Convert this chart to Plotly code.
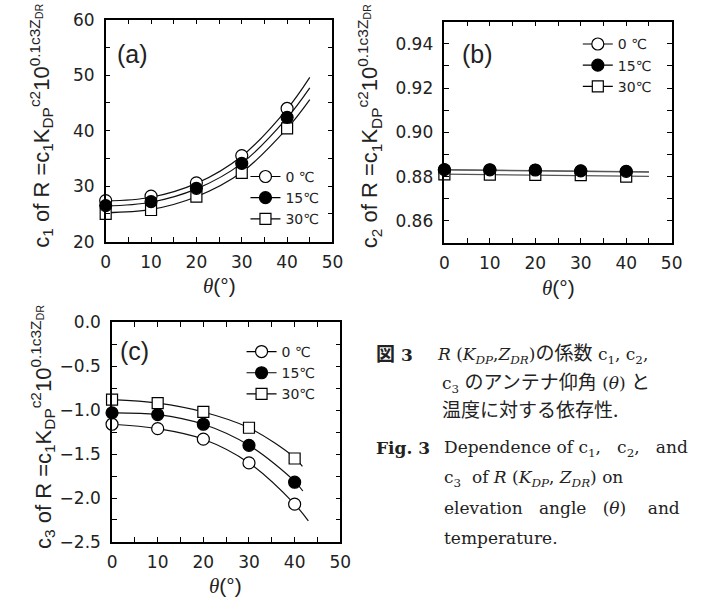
import plotly.graph_objects as go

# ---------------- data ----------------
theta = [0, 10, 20, 30, 40]
temps = ["0 ℃", "15℃", "30℃"]

# (a) c1
c1_pts = {
    "0 ℃": [27.4, 28.2, 30.6, 35.5, 44.0],
    "15℃": [26.5, 27.2, 29.6, 34.1, 42.4],
    "30℃": [25.0, 25.7, 28.1, 32.4, 40.4],
}
c1_fit_x = [0, 10, 20, 30, 40, 45]
c1_fit = {
    "0 ℃": [27.3, 28.0, 30.5, 35.4, 43.9, 49.6],
    "15℃": [26.4, 27.1, 29.5, 34.1, 42.3, 47.7],
    "30℃": [25.2, 25.8, 28.1, 32.5, 40.4, 45.6],
}

# (b) c2
c2_pts = {
    "0 ℃": [0.8830, 0.8829, 0.8828, 0.8825, 0.8822],
    "15℃": [0.8832, 0.8831, 0.8830, 0.8826, 0.8824],
    "30℃": [0.8810, 0.8809, 0.8808, 0.8807, 0.8800],
}
c2_fit_x = [0, 45]
c2_fit = {
    "0 ℃": [0.8830, 0.8820],
    "15℃": [0.8832, 0.8822],
    "30℃": [0.8811, 0.8801],
}

# (c) c3
c3_pts = {
    "0 ℃": [-1.16, -1.21, -1.33, -1.60, -2.07],
    "15℃": [-1.03, -1.05, -1.16, -1.40, -1.82],
    "30℃": [-0.88, -0.92, -1.02, -1.20, -1.55],
}
c3_fit_x = {
    "0 ℃": [0, 10, 20, 30, 40, 43.0],
    "15℃": [0, 10, 20, 30, 40, 41.8],
    "30℃": [0, 10, 20, 30, 40, 41.7],
}
c3_fit = {
    "0 ℃": [-1.16, -1.21, -1.33, -1.60, -2.07, -2.26],
    "15℃": [-1.03, -1.05, -1.16, -1.40, -1.81, -1.92],
    "30℃": [-0.88, -0.92, -1.02, -1.20, -1.54, -1.64],
}

# ---------------- styles ----------------
sym = {"0 ℃": "circle", "15℃": "circle", "30℃": "square"}
fillc = {"0 ℃": "white", "15℃": "black", "30℃": "white"}
msize = {"0 ℃": 12, "15℃": 12, "30℃": 11}

TICKFONT = dict(family="DejaVu Sans", size=17, color="#222")
SANS = "Liberation Sans, Arial, sans-serif"

fig = go.Figure()

panels = [
    ("x", "y", c1_pts, c1_fit_x, c1_fit, "legend", "#111"),
    ("x2", "y2", c2_pts, c2_fit_x, c2_fit, "legend2", "#555"),
    ("x3", "y3", c3_pts, None, c3_fit, "legend3", "#111"),
]

for xa, ya, pts, fx, fy, leg, lc in panels:
    for t in temps:
        xx = fx if fx is not None else c3_fit_x[t]
        fig.add_trace(go.Scatter(
            x=xx, y=fy[t], xaxis=xa, yaxis=ya, mode="lines",
            line=dict(color=lc, width=1.2, shape="spline", smoothing=1.0),
            showlegend=False, hoverinfo="skip", cliponaxis=False))
    for t in ["0 ℃", "30℃", "15℃"]:
        fig.add_trace(go.Scatter(
            x=theta, y=pts[t], xaxis=xa, yaxis=ya, mode="markers",
            marker=dict(symbol=sym[t], size=msize[t], color=fillc[t],
                        line=dict(color="black", width=1.2)),
            showlegend=False, cliponaxis=False))
    for t in temps:
        fig.add_trace(go.Scatter(
            x=[None], y=[None], xaxis=xa, yaxis=ya, mode="lines+markers",
            name=t, legend=leg,
            line=dict(color="black", width=1.2),
            marker=dict(symbol=sym[t], size=msize[t], color=fillc[t],
                        line=dict(color="black", width=1.2))))

W, H = 711, 609

def dom_x(l, r):
    return [l / W, r / W]

def dom_y(t, b):
    return [(H - b) / H, (H - t) / H]

axis_common = dict(
    showline=True, linecolor="black", linewidth=1.5, mirror="allticks",
    ticks="inside", ticklen=5, tickwidth=1, tickcolor="black",
    tickfont=TICKFONT, showgrid=False, zeroline=False, fixedrange=True,
)
minor_common = dict(ticks="inside", ticklen=5, tickwidth=1, tickcolor="black", showgrid=False)

geo = {
    "a": dict(x=dom_x(103, 335), y=dom_y(10, 239.5)),
    "b": dict(x=dom_x(449.5, 682), y=dom_y(12, 241)),
    "c": dict(x=dom_x(109.5, 343), y=dom_y(323, 550)),
}

fig.update_layout(
    width=W, height=H, margin=dict(l=0, r=0, t=0, b=0),
    paper_bgcolor="white", plot_bgcolor="white",
    font=dict(family=SANS, color="#222"),
    xaxis=dict(domain=geo["a"]["x"], anchor="y", range=[0, 50], dtick=10,
               minor=dict(dtick=5, **minor_common), ticklabelstandoff=4, **axis_common),
    yaxis=dict(domain=geo["a"]["y"], anchor="x", range=[20, 60], dtick=10,
               minor=dict(dtick=5, **minor_common), ticklabelstandoff=6, **axis_common),
    xaxis2=dict(domain=geo["b"]["x"], anchor="y2", range=[0, 50], dtick=10,
                minor=dict(dtick=5, **minor_common), ticklabelstandoff=4, **axis_common),
    yaxis2=dict(domain=geo["b"]["y"], anchor="x2", range=[0.85, 0.95], dtick=0.02,
                tick0=0.86, tickformat=".2f",
                minor=dict(dtick=0.01, **minor_common), ticklabelstandoff=6, **axis_common),
    xaxis3=dict(domain=geo["c"]["x"], anchor="y3", range=[0, 50], dtick=10,
                minor=dict(dtick=5, **minor_common), ticklabelstandoff=4, **axis_common),
    yaxis3=dict(domain=geo["c"]["y"], anchor="x3", range=[-2.5, 0], dtick=0.5,
                tickformat=".1f",
                minor=dict(dtick=0.25, **minor_common), ticklabelstandoff=6, **axis_common),
)

leg_common = dict(bgcolor="rgba(0,0,0,0)", borderwidth=0,
                  font=dict(family="DejaVu Sans", size=14, color="#222"),
                  xanchor="left", yanchor="top", tracegroupgap=0, itemclick=False)
fig.update_layout(
    legend=dict(x=246 / W, y=(H - 156) / H, **leg_common),
    legend2=dict(x=586 / W, y=(H - 19) / H, **leg_common),
    legend3=dict(x=242 / W, y=(H - 337) / H, **leg_common),
)

ann = []
# panel labels
for txt, xp, yp in [("(a)", 113, 45), ("(b)", 465, 45), ("(c)", 116, 353)]:
    ann.append(dict(text=txt, x=xp / W, y=(H - yp) / H, xref="paper", yref="paper",
                    xanchor="left", yanchor="middle", showarrow=False,
                    font=dict(family=SANS, size=25, color="#222")))

# y-axis titles
ytitle = ("c<sub>{n}</sub> of R =c<sub>1</sub>K<sub>DP</sub>"
          "<sup>c2</sup>10<sup>0.1c3Z<sub>DR</sub></sup>")
for n, xp, t, b in [(1, 37, 3, 236), (2, 373, 3, 238), (3, 39, 316, 546)]:
    ann.append(dict(text=ytitle.format(n=n), x=xp / W, y=(H - (t + b) / 2) / H,
                    xref="paper", yref="paper", xanchor="center", yanchor="middle",
                    textangle=-90, showarrow=False,
                    font=dict(family=SANS, size=22, color="#222")))

# x-axis titles
xtitle = ("<span style='font-family:Liberation Serif;font-style:italic'>θ</span>"
          "(°)")
for xc, yc in [(219, 285), (566, 287), (226, 596)]:
    ann.append(dict(text=xtitle, x=xc / W, y=(H - yc) / H, xref="paper", yref="paper",
                    xanchor="center", yanchor="middle", showarrow=False,
                    font=dict(family=SANS, size=21, color="#222")))

# caption
CAP = dict(family="DejaVu Serif, Noto Sans CJK JP, serif", size=17, color="#222")
CAPJ = "<span style='font-family:Noto Sans CJK JP;font-size:19px'>{}</span>"
cap_lines = [
    ("<b>" + CAPJ.format("図") + " 3</b>", 377, 354),
    ("<i>R</i> (<i>K<sub>DP</sub></i>,<i>Z<sub>DR</sub></i>)" + CAPJ.format("の係数")
     + " c<sub>1</sub>, c<sub>2</sub>,", 440, 354),
    ("c<sub>3</sub> " + CAPJ.format("のアンテナ仰角") + " (<i>θ</i>) " + CAPJ.format("と"), 445, 384),
    (CAPJ.format("温度に対する依存性."), 445, 412),
    ("<b>Fig. 3</b>", 377, 453),
    ("Dependence of c<sub>1</sub>,\u00a0\u00a0 c<sub>2</sub>,\u00a0\u00a0 and", 447, 453),
    ("c<sub>3</sub>\u00a0 of <i>R</i> (<i>K<sub>DP</sub></i>, <i>Z<sub>DR</sub></i>) on", 447, 484),
    ("elevation\u00a0\u00a0 angle\u00a0\u00a0 (<i>θ</i>)\u00a0\u00a0\u00a0 and", 447, 515),
    ("temperature.", 447, 546),
]
for txt, xp, yp in cap_lines:
    ann.append(dict(text=txt, x=xp / W, y=(H - yp) / H, xref="paper", yref="paper",
                    xanchor="left", yanchor="middle", showarrow=False, font=CAP))

fig.update_layout(annotations=ann)

fig.write_html("out.html")
